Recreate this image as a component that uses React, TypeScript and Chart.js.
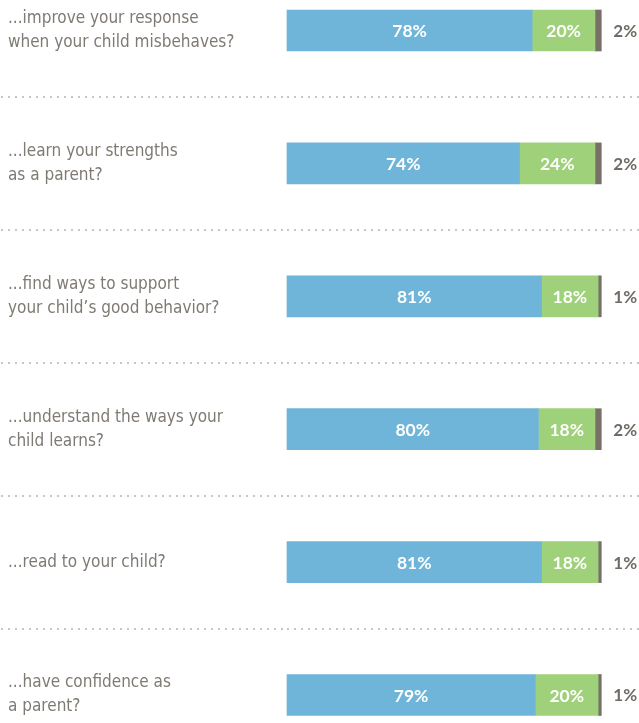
import { useEffect, useRef } from "react";
import { Chart, registerables } from "chart.js";

Chart.register(...registerables);

const categories: string[][] = [
  ["...improve your response", "when your child misbehaves?"],
  ["...learn your strengths", "as a parent?"],
  ["...find ways to support", "your child’s good behavior?"],
  ["...understand the ways your", "child learns?"],
  ["...read to your child?"],
  ["...have confidence as", "a parent?"],
];

const blueValues = [78, 74, 81, 80, 81, 79];
const greenValues = [20, 24, 18, 18, 18, 20];
const grayValues = [2, 2, 1, 2, 1, 1];

const BLUE = "#6fb5d9";
const GREEN = "#9fd07a";
const GRAY = "#777068";

const valueLabelPlugin = {
  id: "valueLabels",
  afterDatasetsDraw(chart: any) {
    const ctx = chart.ctx;
    chart.data.datasets.forEach((ds: any, di: number) => {
      const meta = chart.getDatasetMeta(di);
      meta.data.forEach((bar: any, i: number) => {
        const v = ds.data[i];
        const { x, y, base } = bar.getProps(["x", "y", "base"], true);
        ctx.save();
        ctx.textBaseline = "middle";
        if (di < 2) {
          ctx.font = "bold 17.5px Lato, 'Open Sans', sans-serif";
          ctx.fillStyle = "#ffffff";
          ctx.textAlign = "center";
          ctx.fillText(`${v}%`, (x + base) / 2, y + 1);
        } else {
          ctx.font = "bold 17px Lato, 'Open Sans', sans-serif";
          ctx.fillStyle = "#6f6a64";
          ctx.textAlign = "left";
          ctx.fillText(`${v}%`, x + 12, y + 1);
        }
        ctx.restore();
      });
    });
  },
};

export default function App() {
  const canvasRef = useRef<HTMLCanvasElement | null>(null);

  useEffect(() => {
    if (!canvasRef.current) return;
    const chart = new Chart(canvasRef.current, {
      type: "bar",
      data: {
        labels: categories,
        datasets: [
          { data: blueValues, backgroundColor: BLUE, barThickness: 41, borderWidth: 0, clip: false } as any,
          { data: greenValues, backgroundColor: GREEN, barThickness: 41, borderWidth: 0, clip: false } as any,
          { data: grayValues, backgroundColor: GRAY, barThickness: 41, borderWidth: 0, clip: false } as any,
        ],
      },
      options: {
        indexAxis: "y",
        responsive: true,
        maintainAspectRatio: false,
        animation: false,
        layout: { padding: { left: 8, right: 0, top: 30.5, bottom: 28 } },
        plugins: {
          legend: { display: false },
          tooltip: { enabled: false },
        },
        scales: {
          x: { stacked: true, display: false, min: 0, max: 112 },
          y: {
            stacked: true,
            offset: false,
            grid: {
              offset: true,
              drawOnChartArea: true,
              drawTicks: true,
              tickLength: 300,
              color: "#c6c6c6",
              lineWidth: 2,
              tickColor: "#c6c6c6",
              tickWidth: 2,
              tickBorderDash: [2, 5],
            },
            border: { display: false, dash: [2, 5] },
            ticks: {
              crossAlign: "far",
              autoSkip: false,
              color: "#7f7a73",
              font: {
                family: "'Liberation Sans Narrow', 'DejaVu Sans Condensed', sans-serif",
                size: 17,
                lineHeight: 1.41,
              },
            },
            afterFit: (s: any) => {
              s.width = 279;
            },
          } as any,
        },
      },
      plugins: [valueLabelPlugin],
    });
    return () => chart.destroy();
  }, []);

  return (
    <div style={{ position: "fixed", left: 0, top: 0, width: 639, height: 723 }}>
      <canvas ref={canvasRef} />
    </div>
  );
}
